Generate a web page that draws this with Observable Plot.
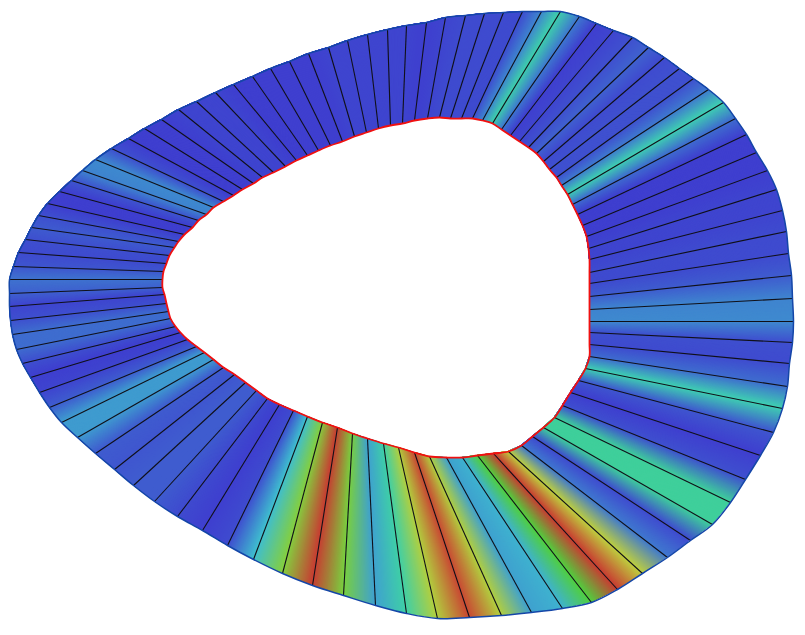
<!DOCTYPE html>
<html>
<head>
<meta charset="utf-8">
<style>html,body{margin:0;padding:0;background:#fff}svg{display:block}</style>
<script src="https://cdn.jsdelivr.net/npm/d3@7"></script>
<script src="https://cdn.jsdelivr.net/npm/@observablehq/plot@0.6"></script>
</head>
<body>
<div id="chart"></div>
<script>
const innerX = [402,414,427,439,450,461,472,482,492,501,510,519,528,536,543,549,556,561,567,572,577,582,586,588,589,589,589,589,589,589,589,589,589,585,578,570,562,554,543,532,521,508,493,477,462,446,429,414,398,383,367,352,337,322,307,293,279,267,256,245,234,223,213,204,196,187,180,175,170,168,166,164,162,162,163,166,169,174,178,184,192,198,206,213,223,233,242,253,262,273,285,296,307,318,330,342,354,366,378,390];
const innerY = [123,120,118,117,118,118,118,120,123,129,135,141,147,153,161,169,177,185,194,204,214,225,236,248,259,272,283,296,309,321,332,344,356,368,380,392,405,417,427,436,445,451,453,455,457,457,456,452,447,443,438,433,427,422,416,410,404,398,390,382,374,367,359,352,346,339,332,326,318,311,303,294,287,279,271,263,255,247,241,234,227,220,214,207,201,195,189,183,177,172,166,160,155,150,145,141,136,132,128,125];
const outerX = [406,426,445,465,484,503,522,541,560,579,596,613,632,648,664,679,693,708,723,735,746,756,767,776,782,786,788,791,792,793,792,789,787,782,773,760,745,730,712,690,667,642,617,591,562,531,501,469,437,406,375,343,312,282,253,227,202,177,154,133,114,95,77,61,49,39,30,22,16,12,10,9,9,9,13,18,25,31,38,47,59,71,82,95,111,128,144,161,178,196,215,233,252,270,289,308,328,347,367,387];
const outerY = [25,22,17,15,13,12,11,11,11,16,23,30,37,47,57,68,78,89,102,118,134,152,170,189,210,231,253,275,298,321,342,363,386,408,432,455,479,502,524,540,557,573,589,602,608,612,615,617,618,613,605,595,585,573,559,545,530,516,501,485,469,453,437,422,407,392,377,363,349,334,320,306,293,279,266,252,239,227,215,203,191,180,170,159,148,138,128,119,109,101,92,84,76,68,61,53,47,40,34,29];
const values = [.01,0,.01,.02,.02,.02,.02,.12,.31,.1,0,.01,.03,.06,.02,.03,.03,.1,.3,.08,0,0,0,.01,.01,.02,.02,.05,.12,.13,.03,.02,.08,.3,.04,0,.03,.34,.34,.02,.1,.72,1,.53,.2,.17,.7,.98,.7,.32,.17,.6,1,.62,.22,.02,0,.02,.05,.05,.04,.05,.16,.16,.05,.01,0,.03,.08,.08,.03,.01,.06,.09,.04,.02,.03,.05,.03,0,0,.04,.12,.13,.03,0,0,0,.01,.01,.01,0,0,0,0,0,.01,.01,.01,.01];
const colorStops = [0, .25, .5, .75, 1];
const colorRange = ["#3f3fcf", "#3fcfcf", "#3fcf3f", "#cfcf3f", "#c83c32"];

const colorOf = d3.scaleLinear().domain(colorStops).range(colorRange).interpolate(d3.interpolateRgb);
const spokes = values.map((v, i) => ({ix: innerX[i], iy: innerY[i], ox: outerX[i], oy: outerY[i], v, c: colorOf(v)}));
const bands = 24;
const mix = (a, b, t) => a + (b - a) * t;
const strips = [];
spokes.forEach((a, i) => {
  const b = spokes[(i + 1) % spokes.length];
  const shade = d3.interpolateRgb(a.c, b.c);
  for (let k = 0; k < bands; k++) {
    const t0 = k / bands;
    const c = shade((k + .5) / bands);
    for (const t of [t0, 1]) {
      strips.push({
        id: i * bands + k, c,
        x1: mix(a.ix, b.ix, t), y1: mix(a.iy, b.iy, t),
        x2: mix(a.ox, b.ox, t), y2: mix(a.oy, b.oy, t)
      });
    }
  }
});

const chart = Plot.plot({
  width: 805, height: 635,
  margin: 0,
  x: {domain: [0, 805], axis: null},
  y: {domain: [635, 0], axis: null},
  color: {type: "identity"},
  marks: [
    Plot.area(strips, {x1: "x1", y1: "y1", x2: "x2", y2: "y2", z: "id", fill: "c"}),
    Plot.link(spokes, {x1: "ix", y1: "iy", x2: "ox", y2: "oy", stroke: "#101018", strokeWidth: 1.1}),
    Plot.line(spokes, {x: "ox", y: "oy", curve: "catmull-rom-closed", stroke: "#1446a8", strokeWidth: 1.5}),
    Plot.line(spokes, {x: "ix", y: "iy", curve: "catmull-rom-closed", stroke: "#f01010", strokeWidth: 1.8})
  ]
});
document.getElementById("chart").append(chart);
</script>
</body>
</html>
